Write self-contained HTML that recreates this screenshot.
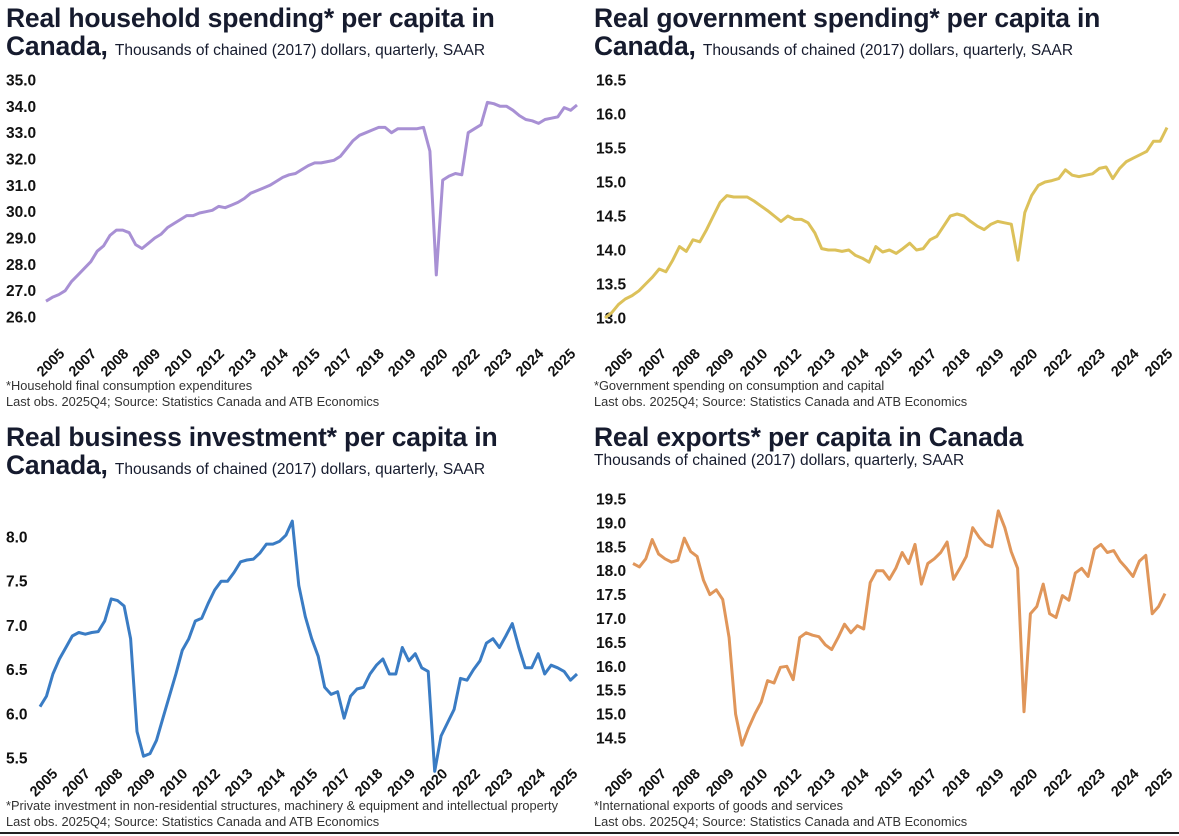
<!DOCTYPE html>
<html><head><meta charset="utf-8">
<style>
html,body{margin:0;padding:0;background:#fff;}
body{width:1179px;height:836px;overflow:hidden;position:relative;font-family:"Liberation Sans",sans-serif;color:#161b2e;}
.t{position:absolute;font-weight:bold;font-size:26.5px;line-height:28px;white-space:nowrap;letter-spacing:-0.2px;}
.t small{font-size:15.5px;font-weight:normal;letter-spacing:0;}
.sub{position:absolute;font-size:15.5px;white-space:nowrap;}
.fn{position:absolute;font-size:12.8px;line-height:16px;color:#333;white-space:nowrap;}
svg{position:absolute;left:0;top:0;}
</style></head><body>
<div class="t" style="left:6px;top:4px">Real household spending* per capita in<br>Canada, <small>Thousands of chained (2017) dollars, quarterly, SAAR</small></div>
<div class="t" style="left:594px;top:4px">Real government spending* per capita in<br>Canada, <small>Thousands of chained (2017) dollars, quarterly, SAAR</small></div>
<div class="t" style="left:6px;top:423px">Real business investment* per capita in<br>Canada, <small>Thousands of chained (2017) dollars, quarterly, SAAR</small></div>
<div class="t" style="left:594px;top:423px">Real exports* per capita in Canada</div>
<div class="sub" style="left:594px;top:452px">Thousands of chained (2017) dollars, quarterly, SAAR</div>
<div class="fn" style="left:6px;top:378px">*Household final consumption expenditures<br>Last obs. 2025Q4; Source: Statistics Canada and ATB Economics</div>
<div class="fn" style="left:594px;top:378px">*Government spending on consumption and capital<br>Last obs. 2025Q4; Source: Statistics Canada and ATB Economics</div>
<div class="fn" style="left:6px;top:798px">*Private investment in non-residential structures, machinery &amp; equipment and intellectual property<br>Last obs. 2025Q4; Source: Statistics Canada and ATB Economics</div>
<div class="fn" style="left:594px;top:798px">*International exports of goods and services<br>Last obs. 2025Q4; Source: Statistics Canada and ATB Economics</div>
<div style="position:absolute;left:0;top:832px;width:1179px;height:2px;background:#222"></div>
<svg id="chart" width="1179" height="836"></svg>
<script>
const xLabels = ["2005","2007","2008","2009","2010","2012","2013","2014","2015","2017","2018","2019","2020","2022","2023","2024","2025"];
const householdTicks = [35,34,33,32,31,30,29,28,27,26];
const householdValues = [26.6,26.75,26.85,27.0,27.35,27.6,27.85,28.1,28.5,28.7,29.1,29.3,29.3,29.2,28.75,28.6,28.8,29.0,29.15,29.4,29.55,29.7,29.85,29.85,29.95,30.0,30.05,30.2,30.15,30.25,30.35,30.5,30.7,30.8,30.9,31.0,31.15,31.3,31.4,31.45,31.6,31.75,31.85,31.85,31.9,31.95,32.1,32.4,32.7,32.9,33.0,33.1,33.2,33.2,33.0,33.15,33.15,33.15,33.15,33.2,32.3,27.6,31.2,31.35,31.45,31.4,33.0,33.15,33.3,34.15,34.1,34.0,34.0,33.85,33.65,33.5,33.45,33.35,33.5,33.55,33.6,33.95,33.85,34.05];
const governmentTicks = [16.5,16.0,15.5,15.0,14.5,14.0,13.5,13.0];
const governmentValues = [13.0,13.08,13.2,13.28,13.33,13.4,13.5,13.6,13.72,13.68,13.85,14.05,13.98,14.15,14.12,14.3,14.5,14.7,14.8,14.78,14.78,14.78,14.72,14.65,14.58,14.5,14.42,14.5,14.45,14.45,14.4,14.25,14.02,14.0,14.0,13.98,14.0,13.92,13.88,13.82,14.05,13.97,14.0,13.95,14.02,14.1,14.0,14.02,14.15,14.2,14.35,14.5,14.53,14.5,14.42,14.35,14.3,14.38,14.42,14.4,14.38,13.85,14.55,14.8,14.95,15.0,15.02,15.05,15.18,15.1,15.08,15.1,15.12,15.2,15.22,15.05,15.2,15.3,15.35,15.4,15.45,15.6,15.6,15.8];
const businessTicks = [8.0,7.5,7.0,6.5,6.0,5.5];
const businessValues = [6.08,6.2,6.45,6.62,6.75,6.88,6.92,6.9,6.92,6.93,7.05,7.3,7.28,7.22,6.85,5.8,5.52,5.55,5.7,5.95,6.2,6.45,6.72,6.85,7.05,7.08,7.25,7.4,7.5,7.5,7.6,7.72,7.74,7.75,7.82,7.92,7.92,7.95,8.02,8.18,7.45,7.1,6.85,6.65,6.3,6.22,6.25,5.95,6.2,6.28,6.3,6.45,6.55,6.62,6.45,6.45,6.75,6.6,6.68,6.52,6.48,5.35,5.75,5.9,6.05,6.4,6.38,6.5,6.6,6.8,6.85,6.75,6.88,7.02,6.75,6.52,6.52,6.68,6.45,6.55,6.52,6.48,6.38,6.45];
const exportsTicks = [19.5,19.0,18.5,18.0,17.5,17.0,16.5,16.0,15.5,15.0,14.5];
const exportsValues = [18.15,18.08,18.25,18.65,18.35,18.25,18.18,18.22,18.68,18.4,18.3,17.8,17.5,17.6,17.4,16.6,15.0,14.35,14.7,15.0,15.25,15.7,15.65,15.98,16.0,15.72,16.6,16.7,16.65,16.62,16.45,16.35,16.6,16.88,16.7,16.85,16.78,17.75,18.0,18.0,17.82,18.05,18.38,18.15,18.55,17.72,18.15,18.25,18.38,18.6,17.82,18.05,18.3,18.9,18.7,18.55,18.5,19.25,18.9,18.4,18.05,15.05,17.1,17.25,17.72,17.1,17.02,17.48,17.38,17.95,18.05,17.88,18.45,18.55,18.38,18.42,18.2,18.05,17.88,18.2,18.32,17.1,17.25,17.52];

const NS="http://www.w3.org/2000/svg";
const svg=document.getElementById('chart');
function draw(name, values, ticks, cfg){
  const g=document.createElementNS(NS,'g');
  
  
  svg.appendChild(g);
  const tMax=ticks[0], tMin=ticks[ticks.length-1];
  const yS=v=>cfg.yTop+(tMax-v)/(tMax-tMin)*(cfg.yBot-cfg.yTop);
  const xS=i=>cfg.x0+i/(values.length-1)*(cfg.x1-cfg.x0);
  ticks.forEach(t=>{
    const tx=document.createElementNS(NS,'text');
    
    
    tx.setAttribute('x', cfg.tickX);
    tx.setAttribute('y', yS(t)+5.5);
    tx.setAttribute('font-size','15.5');
    tx.setAttribute('font-weight','bold');
    tx.setAttribute('font-family','Liberation Sans, sans-serif');
    tx.setAttribute('fill','#111');
    tx.textContent=t.toFixed(1);
    g.appendChild(tx);
  });
  const p=document.createElementNS(NS,'polyline');
  
  
  p.setAttribute('points', values.map((v,i)=>xS(i).toFixed(1)+','+yS(v).toFixed(1)).join(' '));
  p.setAttribute('fill','none');
  p.setAttribute('stroke',cfg.color);
  p.setAttribute('stroke-width','3');
  p.setAttribute('stroke-linejoin','round');
  g.appendChild(p);
  xLabels.forEach((l,i)=>{
    const cx=cfg.lx0+i*(cfg.lx1-cfg.lx0)/(xLabels.length-1);
    const tx=document.createElementNS(NS,'text');
    
    
    tx.setAttribute('x', cx);
    tx.setAttribute('y', cfg.ly);
    tx.setAttribute('font-size','14.5');
    tx.setAttribute('font-weight','bold');
    tx.setAttribute('font-family','Liberation Sans, sans-serif');
    tx.setAttribute('fill','#111');
    tx.setAttribute('text-anchor','middle');
    tx.setAttribute('transform','rotate(-45 '+cx+' '+cfg.ly+')');
    tx.textContent=l;
    g.appendChild(tx);
  });
}
draw('household', householdValues, householdTicks, {x0:46,x1:577,yTop:80,yBot:317,tickX:6,color:'#a890d4',lx0:54,lx1:565,ly:366});
draw('government', governmentValues, governmentTicks, {x0:605,x1:1167,yTop:80,yBot:318,tickX:596,color:'#dcc15a',lx0:622,lx1:1162,ly:366});
draw('business', businessValues, businessTicks, {x0:40,x1:577,yTop:537,yBot:758,tickX:6,color:'#3a7cc4',lx0:47,lx1:567,ly:786});
draw('exports', exportsValues, exportsTicks, {x0:633,x1:1165,yTop:499,yBot:738,tickX:596,color:'#e0965a',lx0:622,lx1:1162,ly:786});
</script>
</body></html>
